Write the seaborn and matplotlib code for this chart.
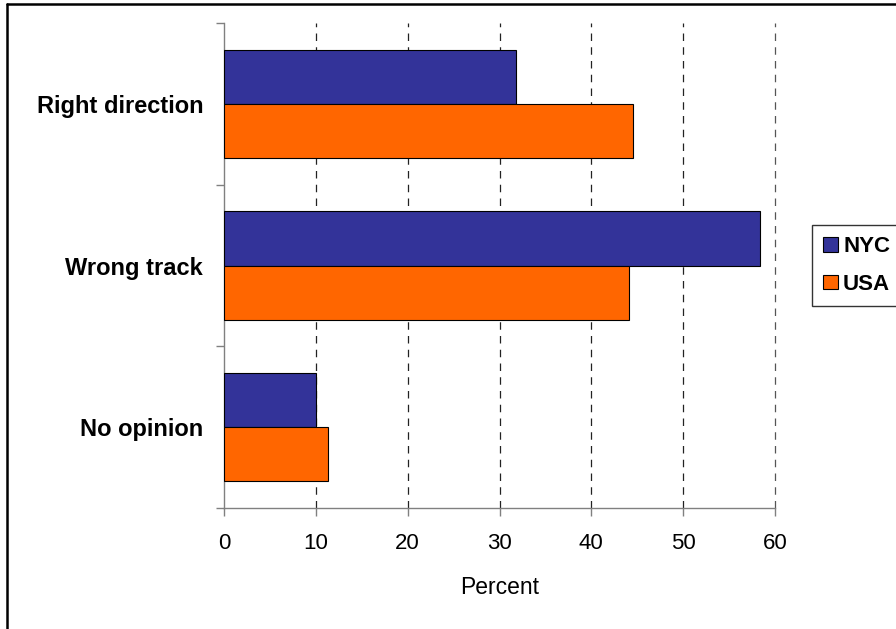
import matplotlib
matplotlib.use("Agg")
import matplotlib.pyplot as plt
import seaborn as sns
import pandas as pd
from matplotlib.lines import Line2D

categories = ["Right direction", "Wrong track", "No opinion"]
series = ["NYC", "USA"]
nyc_values = [31.8, 58.4, 10.0]
usa_values = [44.5, 44.1, 11.3]
x_ticks = [0, 10, 20, 30, 40, 50, 60]
x_label = "Percent"
colors = ["#333399", "#FF6600"]

df = pd.DataFrame({
    "category": categories * 2,
    "series": [series[0]] * 3 + [series[1]] * 3,
    "value": nyc_values + usa_values,
})

sns.set_theme(style="white")
plt.rcParams["font.family"] = ["Liberation Sans", "DejaVu Sans"]
plt.rcParams["text.color"] = "black"
plt.rcParams["xtick.color"] = "black"
plt.rcParams["ytick.color"] = "black"
plt.rcParams["axes.labelcolor"] = "black"

fig = plt.figure(figsize=(8.96, 6.29), dpi=100)
ax = fig.add_axes([224 / 896, 1 - 508 / 629, (775 - 224) / 896, (508 - 23) / 629])

sns.barplot(data=df, x="value", y="category", hue="series", order=categories,
            hue_order=series, palette=colors, orient="h", width=0.67,
            edgecolor="black", linewidth=0.8, saturation=1, ax=ax, zorder=3)

ax.set_xlim(0, 60)
ax.set_ylim(2.5, -0.5)
ax.set_xticks(x_ticks)
ax.set_xticklabels([str(t) for t in x_ticks], fontsize=16)
ax.set_xlabel(x_label, fontsize=16.5, labelpad=16)
ax.set_ylabel("")

ax.set_yticks([-0.5, 0.5, 1.5, 2.5])
ax.set_yticklabels([])
ax.set_yticks([0, 1, 2], minor=True)
ax.set_yticklabels(categories, minor=True, fontsize=17, fontweight="bold")
ax.tick_params(axis="y", which="major", direction="out", length=6, width=1, color="#808080", left=True)
ax.tick_params(axis="y", which="minor", length=0, pad=15)
ax.tick_params(axis="x", direction="out", length=6, width=1, color="#808080", bottom=True, pad=12)

for t in x_ticks[1:]:
    ax.axvline(t, color="#222222" if t < 60 else "#555555", linestyle=(0, (6, 5)),
               linewidth=0.9, zorder=1, clip_on=False)

for side in ["top", "right"]:
    ax.spines[side].set_visible(False)
for side in ["left", "bottom"]:
    ax.spines[side].set_color("#808080")
    ax.spines[side].set_linewidth(1)

leg = ax.legend(loc="upper left", bbox_to_anchor=(812 / 896, 1 - 225 / 629),
                bbox_transform=fig.transFigure, frameon=True, fancybox=False,
                prop={"weight": "bold", "size": 16}, handlelength=0.65, handleheight=0.65,
                handletextpad=0.25, labelspacing=0.75, borderpad=0.5, borderaxespad=0)
leg.get_frame().set_edgecolor("black")
leg.get_frame().set_linewidth(1)

fig.add_artist(Line2D([7 / 896, 1.0], [1 - 4 / 629, 1 - 4 / 629], transform=fig.transFigure,
                      color="black", linewidth=1.8))
fig.add_artist(Line2D([7 / 896, 7 / 896], [0, 1 - 4 / 629], transform=fig.transFigure,
                      color="black", linewidth=1.8))

fig.savefig("out.png", dpi=100)
